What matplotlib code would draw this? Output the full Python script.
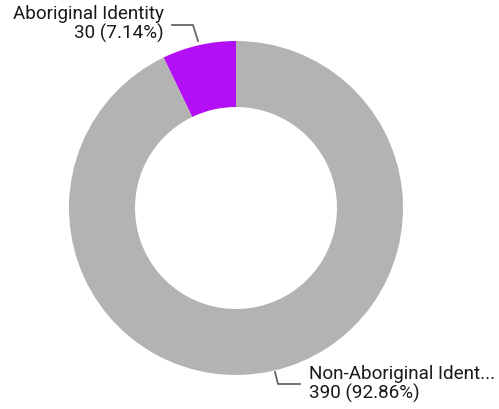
import matplotlib.pyplot as plt

labels = ["Aboriginal Identity", "Non-Aboriginal Ident..."]
counts = [30, 390]
pcts = ["7.14%", "92.86%"]
colors = ["#b30ff7", "#b3b3b3"]

W, H = 499, 409
fig = plt.figure(figsize=(W / 100, H / 100), dpi=100)
ax = fig.add_axes([0, 0, 1, 1])

cx, cy, r_out, r_in = 236, 208, 167, 101
# y axis is inverted, so clockwise in data = counterclockwise on screen
ax.pie(counts, colors=colors, startangle=-90, counterclock=False,
       center=(cx, cy), radius=r_out, frame=True,
       wedgeprops=dict(width=r_out - r_in, linewidth=0))
ax.set_xlim(0, W)
ax.set_ylim(H, 0)
ax.set_aspect("equal")
ax.axis("off")

plt.rcParams["font.family"] = ["Roboto", "DejaVu Sans"]
txt = dict(fontsize=13.6, color="#1a1a1a", linespacing=1.05)

ax.plot([172, 193, 198], [25, 25, 41], color="#666666", lw=1.3)
ax.text(164, 24, f"{labels[0]}\n{counts[0]} ({pcts[0]})", ha="right", va="center", **txt)

ax.plot([275, 278, 300], [372, 384, 384], color="#666666", lw=1.3)
ax.text(309, 384, f"{labels[1]}\n{counts[1]} ({pcts[1]})", ha="left", va="center", **txt)

fig.savefig("out.png", dpi=100)
